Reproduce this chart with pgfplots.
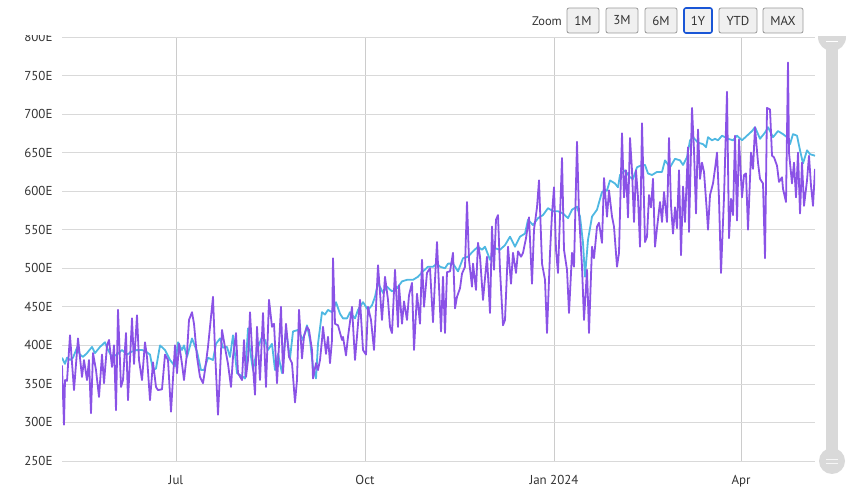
\documentclass[border=0pt]{standalone}
\usepackage{fontspec}
\setmainfont{PT Sans}
\usepackage{pgfplots}
\pgfplotsset{compat=1.18}
\definecolor{purp}{HTML}{8A52E6}
\definecolor{cyanl}{HTML}{4FB8E2}
\definecolor{gridc}{HTML}{D9D9D9}
\definecolor{vgrid}{HTML}{CCCCCC}
\definecolor{txt}{HTML}{333333}
\definecolor{btn}{HTML}{F0F0F0}
\definecolor{btnb}{HTML}{9A9A9A}
\definecolor{sel}{HTML}{1A56D6}
\definecolor{scroll}{HTML}{D9D9D9}
\begin{document}
\begin{tikzpicture}
\path (0bp,0bp) rectangle (857bp,504bp);
\begin{axis}[at={(62bp,43bp)}, anchor=south west, scale only axis,
  width=753bp, height=424bp,
  xmin=62, xmax=815, ymin=250, ymax=800,
  axis line style={draw=none}, major tick length=0pt,
  xtick={176,365,554,741}, xticklabels={Jul,Oct,Jan 2024,Apr},
  ytick={250,300,350,400,450,500,550,600,650,700,750,800},
  yticklabels={250E,300E,350E,400E,450E,500E,550E,600E,650E,700E,750E,800E},
  ymajorgrids, xmajorgrids,
  y grid style={gridc, line width=0.8bp},
  x grid style={vgrid, line width=0.8bp},
  tick label style={font=\fontsize{13}{15}\selectfont, text=txt},
  yticklabel style={xshift=-6bp},
  xticklabel style={yshift=-10.5bp},
  clip=true]
\addplot[cyanl, line width=1.8bp, line join=round] coordinates {
(62,384)(65,376)(67,384)(70,381)(73,384)(77,397)(80,388)(83,385)(87,390)(92,398)
(95,390)(100,398)(105,404)(108,394)(112,385)(117,388)(122,394)(127,388)(132,392)(137,394)
(142,394)(146,392)(150,388)(153,368)(156,370)(160,400)(165,394)(170,381)(175,373)(178,404)
(182,394)(184,400)(187,385)(192,409)(197,392)(201,368)(204,368)(208,384)(213,381)(216,402)
(220,409)(223,397)(227,398)(230,385)(233,413)(237,364)(242,360)(245,357)(248,422)(250,394)
(253,368)(257,394)(262,411)(265,407)(268,394)(272,402)(275,368)(278,389)(282,364)(286,420)
(290,383)(293,418)(298,420)(303,407)(307,426)(310,407)(313,372)(316,357)(318,402)(322,443)
(325,440)(328,446)(332,443)(336,456)(340,441)(343,435)(347,435)(350,443)(355,435)(358,446)
(363,456)(368,446)(372,452)(375,463)(378,481)(383,468)(387,476)(392,470)(397,474)(402,483)
(407,485)(413,485)(418,489)(423,496)(428,502)(433,502)(437,506)(440,502)(445,500)(448,506)
(453,506)(458,496)(463,513)(468,515)(473,522)(478,528)(482,524)(485,528)(490,511)(495,526)
(500,524)(505,530)(510,541)(515,528)(520,541)(525,545)(528,563)(533,556)(538,565)(543,569)
(548,578)(553,574)(558,574)(563,571)(568,565)(572,576)(577,580)(580,567)(583,533)(585,489)
(588,537)(592,567)(597,576)(602,599)(607,601)(610,614)(615,610)(618,605)(620,621)(625,627)
(630,618)(633,616)(637,631)(642,634)(645,634)(648,623)(652,621)(657,625)(662,625)(665,640)
(670,631)(675,642)(680,640)(683,634)(687,644)(690,666)(693,670)(698,663)(703,661)(706,657)
(708,670)(712,666)(715,668)(718,666)(722,672)(725,670)(728,668)(733,666)(737,672)(742,666)
(747,672)(752,678)(755,683)(760,668)(765,676)(768,683)(773,670)(778,678)(783,674)(787,670)
(790,661)(793,674)(797,672)(800,653)(803,636)(807,653)(810,648)(815,646)
};
\addplot[purp, line width=1.8bp, line join=round] coordinates {
(62,374)(64,297)(65,355)(67,354)(70,413)(74,342)(78,409)(82,359)(84,381)(87,355)
(89,381)(91,312)(93,390)(96,368)(99,333)(102,388)(104,351)(107,400)(109,407)(112,372)
(114,400)(116,316)(118,446)(121,346)(123,355)(126,416)(128,329)(132,435)(134,376)(137,439)
(139,381)(142,355)(145,404)(147,385)(150,329)(153,378)(156,346)(158,342)(162,343)(165,388)
(168,381)(171,314)(175,400)(177,364)(179,402)(182,376)(184,355)(187,390)(189,433)(192,443)
(194,428)(197,385)(200,359)(203,351)(205,368)(208,398)(211,437)(213,463)(215,394)(218,310)
(222,420)(226,390)(228,376)(231,346)(233,385)(236,416)(238,364)(242,355)(244,407)(246,359)
(248,381)(250,443)(253,372)(255,336)(257,424)(260,355)(263,442)(266,346)(269,459)(272,424)
(274,428)(277,351)(281,450)(283,364)(286,428)(289,385)(292,377)(295,326)(297,355)(299,446)
(302,383)(304,412)(307,424)(309,420)(312,394)(313,357)(316,377)(318,368)(320,381)(322,407)
(323,424)(326,389)(328,411)(330,377)(332,407)(333,513)(335,428)(338,426)(342,407)(343,411)
(346,387)(348,411)(352,450)(355,381)(357,412)(360,459)(363,394)(366,388)(368,450)(371,433)
(374,394)(378,504)(382,433)(385,489)(388,459)(390,424)(392,416)(395,498)(398,424)(399,478)
(402,428)(404,457)(407,433)(409,465)(412,481)(414,394)(417,467)(420,428)(422,511)(424,450)
(427,494)(430,500)(433,430)(435,485)(437,534)(441,418)(443,489)(445,416)(447,495)(450,496)
(453,520)(455,448)(457,463)(460,474)(462,493)(465,502)(467,586)(469,511)(472,476)(473,506)
(476,472)(478,533)(480,515)(483,459)(487,515)(490,442)(492,554)(494,498)(496,563)(498,569)
(500,498)(503,426)(505,433)(508,528)(511,480)(513,520)(516,494)(518,522)(521,515)(523,520)
(526,539)(529,566)(532,480)(534,550)(537,579)(539,614)(542,506)(545,485)(547,416)(550,520)
(552,571)(554,605)(556,524)(558,494)(562,643)(564,524)(567,498)(569,442)(572,520)(574,502)
(577,664)(579,571)(582,502)(584,433)(587,498)(589,416)(592,528)(594,513)(597,554)(599,559)
(602,533)(604,617)(607,567)(609,601)(612,567)(614,554)(617,502)(619,520)(622,675)(624,592)
(626,627)(628,566)(630,669)(632,627)(634,560)(636,627)(638,592)(640,528)(642,688)(645,534)
(647,541)(649,595)(651,579)(653,616)(655,528)(657,552)(660,586)(662,560)(664,599)(667,560)
(669,669)(671,582)(673,545)(675,579)(677,552)(679,627)(681,517)(683,606)(685,560)(688,657)
(689,547)(692,708)(694,653)(696,571)(698,680)(700,616)(702,637)(704,625)(707,571)(708,550)
(710,595)(713,610)(715,629)(717,650)(719,590)(721,494)(723,560)(724,592)(727,729)(729,539)
(731,590)(733,569)(735,672)(737,562)(739,667)(742,592)(744,621)(746,623)(748,550)(751,650)
(753,629)(755,683)(758,637)(760,616)(763,610)(765,513)(767,708)(770,706)(772,646)(774,644)
(777,633)(779,612)(782,618)(783,603)(786,586)(788,767)(789,650)(792,610)(794,637)(796,592)
(798,650)(800,571)(802,637)(804,581)(807,614)(809,646)(811,607)(813,581)(815,629)
};
\end{axis}
% clip the top label as in the reference
\fill[white] (0bp,468.5bp) rectangle (60bp,504bp);
% zoom buttons
\node[anchor=east, text=txt, font=\fontsize{12.5}{15}\selectfont, inner sep=0pt] at (562bp,483bp) {Zoom};
\foreach \a/\b/\t in {567/599/1M,606/638/3M,645/677/6M,719/757/YTD,763/803/MAX}{
  \draw[btnb, fill=btn, rounded corners=2bp, line width=0.8bp] (\a bp,471bp) rectangle (\b bp,496bp);
  \node[text=txt, font=\fontsize{13}{15}\selectfont, inner sep=0pt] at ({(\a+\b)/2*1bp},483.5bp) {\t};
}
\draw[sel, fill=btn, rounded corners=2bp, line width=1.6bp] (684bp,471bp) rectangle (712bp,496bp);
\node[text=txt, font=\fontsize{13}{15}\selectfont, inner sep=0pt] at (698bp,483.5bp) {1Y};
% scrollbar
\fill[scroll] (826bp,43bp) rectangle (838bp,467bp);
\begin{scope}
\clip (810bp,0bp) rectangle (857bp,467.5bp);
\fill[scroll] (832bp,467bp) circle (14bp);
\draw[white, line width=0.8bp] (826bp,463bp) -- (838bp,463bp);
\end{scope}
\fill[scroll] (832bp,43bp) circle (13bp);
\draw[white!93!gray, line width=0.8bp] (826bp,41bp) -- (838bp,41bp);
\draw[white!93!gray, line width=0.8bp] (826bp,45bp) -- (838bp,45bp);
\end{tikzpicture}
\end{document}
